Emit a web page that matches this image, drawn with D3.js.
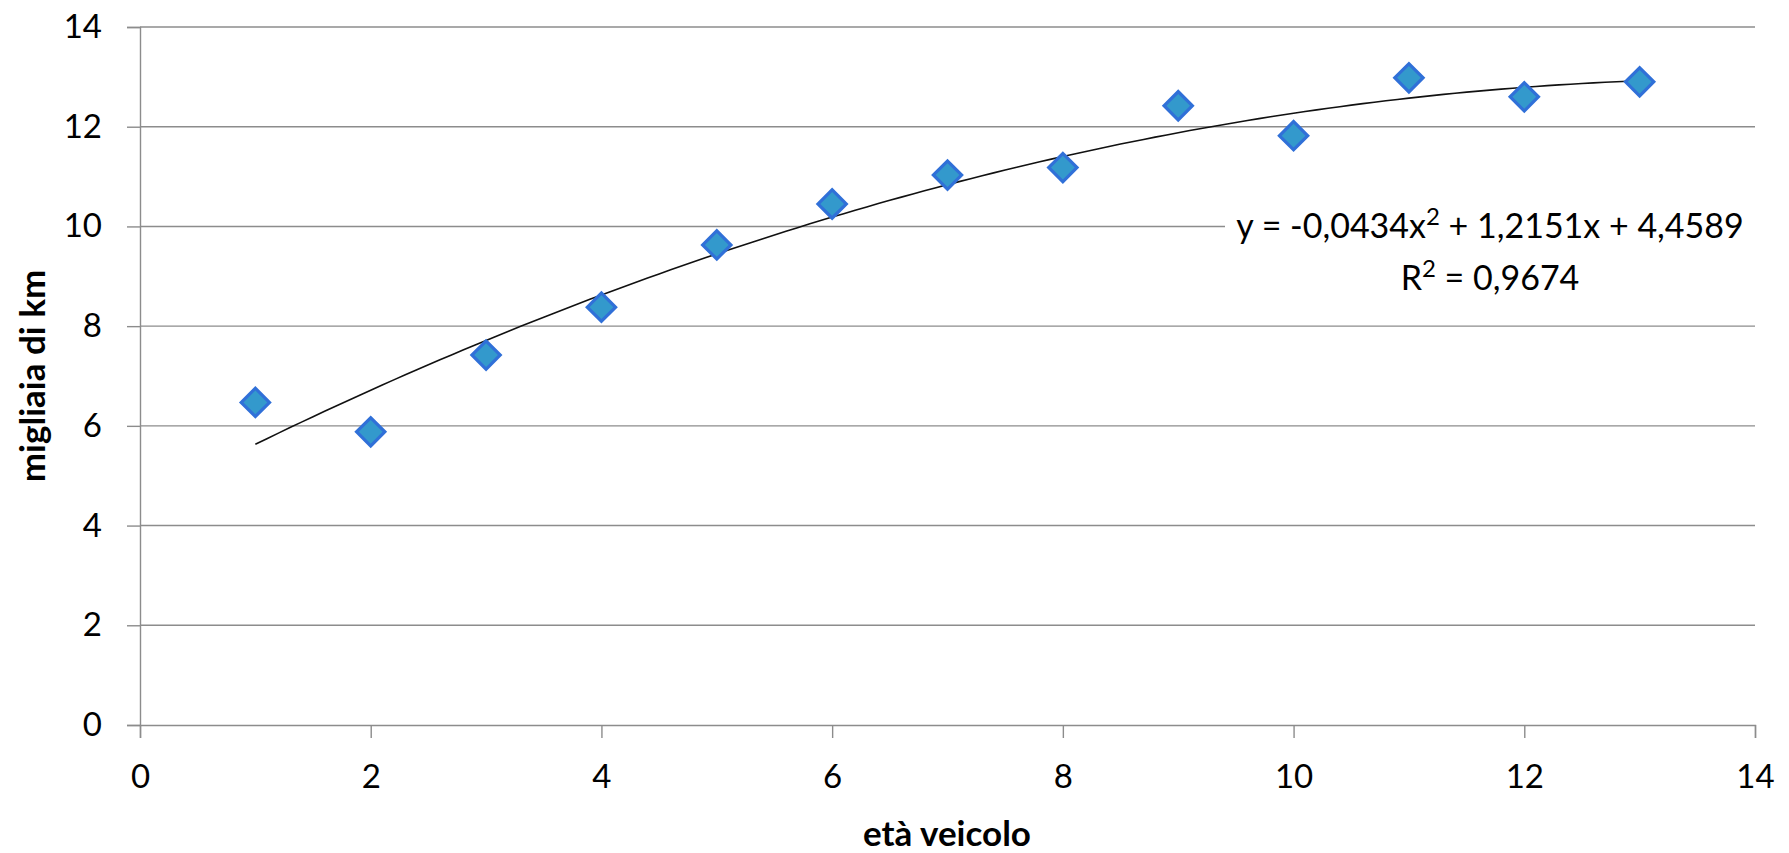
<!DOCTYPE html>
<html>
<head>
<meta charset="utf-8">
<script src="https://cdn.jsdelivr.net/npm/d3@7/dist/d3.min.js"></script>
<style>
  html, body { margin: 0; padding: 0; background: #ffffff; }
  svg { display: block; }
  text { font-family: Lato, "Open Sans", sans-serif; fill: #000; }
</style>
</head>
<body>
<svg id="chart" width="1789" height="853"></svg>
<script>
// Età del veicolo (anni) e percorrenza annua (migliaia di km)
const ages = [1, 2, 3, 4, 5, 6, 7, 8, 9, 10, 11, 12, 13];
const kms = [6.47, 5.88, 7.42, 8.38, 9.63, 10.45, 11.03, 11.18, 12.42, 11.82, 12.98, 12.60, 12.90];

// Trend line polinomiale di secondo grado
const trendCoef = { a: -0.0434, b: 1.2151, c: 4.4589 };
const rSquared = "0,9674";

const xTicks = [0, 2, 4, 6, 8, 10, 12, 14];
const yTicks = [0, 2, 4, 6, 8, 10, 12, 14];

const xTitle = "età veicolo";
const yTitle = "migliaia di km";

const W = 1789, H = 853;
const margin = { left: 140, right: 34, top: 27, bottom: 128 };

const svg = d3.select("#chart");

const x = d3.scaleLinear().domain([0, 14]).range([margin.left, W - margin.right]);
const y = d3.scaleLinear().domain([0, 14]).range([H - margin.bottom, margin.top]);

const gridColor = "#8c8c8c";

// Griglia orizzontale
svg.append("g")
  .selectAll("line")
  .data(yTicks.filter(d => d > 0))
  .join("line")
  .attr("x1", x(0)).attr("x2", x(14))
  .attr("y1", d => y(d)).attr("y2", d => y(d))
  .attr("stroke", gridColor)
  .attr("stroke-width", 1.4);

// Asse Y
const yAxis = svg.append("g")
  .attr("transform", `translate(${x(0)},0)`)
  .call(d3.axisLeft(y).tickValues(yTicks).tickSize(13).tickPadding(25).tickFormat(d3.format("d")));
yAxis.select(".domain").attr("stroke", gridColor).attr("stroke-width", 1.4);
yAxis.selectAll(".tick line").attr("stroke", gridColor).attr("stroke-width", 1.4);
yAxis.selectAll(".tick text")
  .attr("font-size", 33)
  .attr("font-family", "Lato, 'Open Sans', sans-serif")
  .attr("fill", "#1a1a1a");

// Asse X
const xAxis = svg.append("g")
  .attr("transform", `translate(0,${y(0)})`)
  .call(d3.axisBottom(x).tickValues(xTicks).tickSize(13).tickPadding(27).tickFormat(d3.format("d")));
xAxis.select(".domain").attr("stroke", gridColor).attr("stroke-width", 1.4);
xAxis.selectAll(".tick line").attr("stroke", gridColor).attr("stroke-width", 1.4);
xAxis.selectAll(".tick text")
  .attr("font-size", 33)
  .attr("font-family", "Lato, 'Open Sans', sans-serif")
  .attr("fill", "#1a1a1a");

// Linea di tendenza
const trend = t => trendCoef.a * t * t + trendCoef.b * t + trendCoef.c;
const trendPts = d3.range(1, 13.001, 0.1).map(t => [t, trend(t)]);
svg.append("path")
  .datum(trendPts)
  .attr("fill", "none")
  .attr("stroke", "#111")
  .attr("stroke-width", 1.6)
  .attr("d", d3.line().x(d => x(d[0])).y(d => y(d[1])));

// Punti (rombi)
const diamond = d3.symbol().type(d3.symbolSquare).size(400);
svg.append("g")
  .selectAll("path")
  .data(ages.map((a, i) => ({ a, v: kms[i] })))
  .join("path")
  .attr("d", diamond)
  .attr("transform", d => `translate(${x(d.a)},${y(d.v)}) rotate(45)`)
  .attr("fill", "#3399cc")
  .attr("stroke", "#3070d8")
  .attr("stroke-width", 3.2);

// Etichetta dell'equazione
const eqX = 1490;
const eqG = svg.append("g");
eqG.append("rect")
  .attr("x", 1225).attr("y", 205)
  .attr("width", x(14) - 1225).attr("height", 95)
  .attr("fill", "#fff");
const eq = eqG.append("text")
  .attr("x", eqX).attr("y", 238)
  .attr("text-anchor", "middle")
  .attr("font-size", 34)
  .attr("fill", "#1a1a1a");
const fmt = v => d3.format(".4f")(Math.abs(v)).replace(".", ",");
eq.append("tspan").text(`y = ${trendCoef.a < 0 ? "-" : ""}${fmt(trendCoef.a)}x`);
eq.append("tspan").attr("dy", -13).attr("font-size", 24).text("2");
eq.append("tspan").attr("dy", 13).text(` + ${fmt(trendCoef.b)}x + ${fmt(trendCoef.c)}`);

const r2 = eqG.append("text")
  .attr("x", eqX).attr("y", 290)
  .attr("text-anchor", "middle")
  .attr("font-size", 34)
  .attr("fill", "#1a1a1a");
r2.append("tspan").text("R");
r2.append("tspan").attr("dy", -13).attr("font-size", 24).text("2");
r2.append("tspan").attr("dy", 13).text(` = ${rSquared}`);

// Titoli degli assi
svg.append("text")
  .attr("x", 947)
  .attr("y", 846)
  .attr("text-anchor", "middle")
  .attr("font-size", 35)
  .attr("font-weight", "bold")
  .text(xTitle);

svg.append("text")
  .attr("transform", `translate(45,${(y(0) + y(14)) / 2}) rotate(-90)`)
  .attr("text-anchor", "middle")
  .attr("font-size", 35)
  .attr("font-weight", "bold")
  .text(yTitle);
</script>
</body>
</html>
